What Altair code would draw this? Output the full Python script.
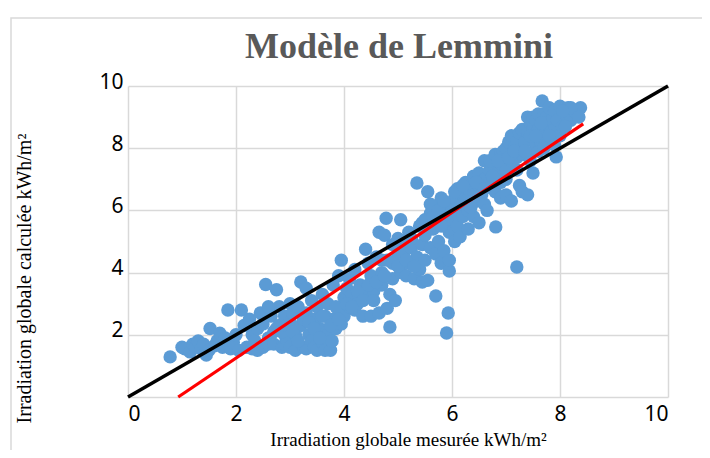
import altair as alt
import pandas as pd

# Measured (x) and calculated (y) global irradiation, kWh/m²
meas = [
    0.78, 1.00, 1.05, 1.15, 1.20, 1.25, 1.30, 1.35, 1.40, 1.45, 1.50, 1.52, 1.60, 1.65, 1.70, 1.75, 1.80, 1.85, 1.90, 1.95,
    2.00, 2.05, 2.10, 2.15, 2.20, 2.25, 2.30, 2.30, 2.35, 2.40, 2.40, 2.45, 2.50, 2.50, 2.55, 2.60, 2.60, 2.65, 2.70, 2.70,
    2.75, 2.80, 2.80, 2.85, 2.90, 2.90, 2.90, 2.95, 3.00, 3.00, 3.00, 3.05, 3.10, 3.10, 3.15, 3.20, 3.20, 3.25, 3.30, 3.30,
    3.30, 3.35, 3.40, 3.40, 3.45, 3.45, 3.50, 3.50, 3.55, 3.60, 3.60, 3.65, 3.65, 3.70, 3.70, 3.75, 3.78, 3.80, 3.80, 3.85,
    3.90, 3.90, 3.95, 3.95, 4.00, 4.00, 4.05, 4.10, 4.10, 4.15, 4.20, 4.20, 4.25, 4.30, 4.35, 4.40, 4.40, 4.45, 4.50, 4.50,
    4.55, 4.60, 4.65, 4.65, 4.70, 4.70, 4.75, 4.78, 4.80, 4.80, 4.85, 4.85, 4.90, 4.90, 4.95, 5.00, 5.00, 5.05, 5.05, 5.10,
    5.15, 5.20, 5.20, 5.25, 5.30, 5.35, 5.35, 5.40, 5.40, 5.45, 5.45, 5.50, 5.50, 5.55, 5.55, 5.60, 5.60, 5.65, 5.70, 5.70,
    5.70, 5.75, 5.80, 5.80, 5.85, 5.85, 5.90, 5.90, 5.90, 5.93, 5.95, 5.95, 5.95, 5.95, 6.00, 6.00, 6.00, 6.05, 6.05, 6.10,
    6.10, 6.10, 6.15, 6.15, 6.20, 6.20, 6.20, 6.25, 6.30, 6.30, 6.30, 6.35, 6.40, 6.40, 6.40, 6.45, 6.50, 6.50, 6.50, 6.55,
    6.55, 6.60, 6.60, 6.60, 6.65, 6.70, 6.70, 6.70, 6.81, 6.80, 6.80, 6.85, 6.90, 6.90, 6.90, 6.90, 6.95, 7.00, 7.00, 7.00,
    7.00, 7.05, 7.10, 7.10, 7.10, 7.15, 7.20, 7.20, 7.20, 7.20, 7.25, 7.25, 7.30, 7.30, 7.30, 7.35, 7.40, 7.40, 7.40, 7.40,
    7.45, 7.45, 7.50, 7.50, 7.50, 7.55, 7.55, 7.60, 7.60, 7.60, 7.65, 7.67, 7.70, 7.70, 7.75, 7.75, 7.80, 7.80, 7.85, 7.85,
    7.90, 7.90, 7.93, 7.95, 8.00, 8.00, 8.05, 8.10, 8.15, 8.20, 8.25, 8.30, 8.38,
    2.60, 2.75, 2.85, 2.95, 3.05, 3.15, 3.25, 3.35, 3.45, 3.55, 3.60, 3.75, 3.85, 3.90, 4.05, 4.15, 4.25, 4.35, 4.45, 4.55,
    4.60, 4.70, 4.75, 4.90, 5.00, 5.10, 5.15, 5.25, 5.30, 5.45, 5.50, 5.60, 5.65, 5.75, 5.80, 5.85, 6.05, 6.20, 6.25, 6.35,
    6.45, 6.60, 6.75, 6.85, 7.05, 7.15, 7.35, 7.45, 7.55, 7.65, 7.70, 7.80, 7.90, 8.10, 8.20, 8.35, 8.05,
]
calc = [
    1.29, 1.60, 1.55, 1.45, 1.70, 1.60, 1.80, 1.55, 1.70, 1.35, 1.50, 2.20, 1.65, 1.80, 2.05, 1.60, 1.90, 2.80, 1.55, 1.75,
    2.00, 1.50, 2.80, 2.30, 1.60, 2.50, 1.55, 2.00, 1.80, 2.20, 1.50, 2.70, 1.60, 2.35, 3.62, 1.90, 1.70, 2.60, 2.10, 1.70,
    3.45, 2.90, 2.30, 1.60, 2.60, 2.00, 1.70, 1.80, 3.00, 2.40, 1.60, 2.70, 2.00, 1.50, 2.90, 3.70, 2.30, 1.60, 3.50, 2.70,
    1.55, 2.00, 3.10, 1.80, 2.50, 1.60, 1.50, 2.90, 2.20, 3.30, 1.75, 2.60, 1.50, 2.00, 3.00, 1.50, 1.80, 2.50, 3.60, 2.20,
    3.90, 2.80, 4.40, 2.35, 3.20, 2.60, 3.50, 2.90, 3.80, 3.30, 2.80, 4.10, 3.00, 3.60, 2.60, 4.75, 3.30, 4.30, 2.60, 3.90,
    3.40, 4.50, 5.30, 2.70, 4.00, 3.60, 5.20, 5.75, 4.40, 2.85, 2.25, 3.30, 4.90, 3.80, 3.10, 4.60, 5.10, 5.70, 4.00, 4.60,
    3.90, 4.30, 5.30, 4.80, 3.80, 6.88, 4.50, 5.50, 4.10, 3.70, 4.90, 5.20, 4.40, 6.60, 3.75, 5.90, 4.80, 5.40, 3.25, 6.10,
    4.60, 5.00, 6.40, 4.30, 5.60, 4.70, 6.20, 2.06, 5.80, 2.70, 4.05, 4.40, 5.30, 5.90, 6.00, 5.70, 5.30, 6.40, 5.00, 5.50,
    6.70, 5.90, 5.15, 6.10, 6.20, 5.80, 6.50, 6.90, 6.00, 5.40, 6.40, 6.60, 7.10, 5.80, 6.50, 6.30, 7.20, 5.60, 6.80, 6.80,
    6.50, 7.60, 6.20, 7.00, 6.00, 7.30, 6.90, 7.60, 5.47, 7.80, 6.60, 7.20, 7.50, 6.40, 7.80, 6.90, 7.90, 7.00, 6.50, 8.00,
    7.30, 8.20, 7.60, 6.30, 8.40, 8.00, 4.18, 7.30, 8.20, 7.70, 8.50, 6.80, 7.80, 6.60, 8.60, 8.20, 9.00, 6.50, 8.50, 7.80,
    7.60, 8.80, 8.60, 7.20, 9.00, 8.90, 8.10, 9.10, 7.90, 8.60, 8.20, 9.52, 8.50, 9.10, 9.00, 8.80, 8.70, 9.30, 8.30, 8.90,
    9.20, 8.60, 7.72, 8.90, 9.35, 8.40, 8.70, 9.10, 9.30, 8.90, 9.20, 9.15, 9.30,
    2.90, 2.20, 2.10, 2.30, 2.10, 1.80, 2.50, 2.40, 2.20, 1.90, 2.60, 2.30, 2.90, 2.50, 3.00, 2.90, 3.40, 3.10, 3.60, 3.10,
    3.70, 4.40, 3.90, 4.30, 4.20, 5.00, 4.40, 5.10, 4.20, 5.60, 5.70, 6.20, 5.80, 6.00, 5.50, 6.30, 6.60, 6.80, 6.30, 6.10,
    6.90, 6.70, 7.10, 7.60, 7.70, 7.90, 7.90, 8.40, 8.40, 8.80, 8.00, 8.40, 8.10, 8.70, 9.30, 9.00, 9.20,
]

# Reference lines: y = x (black) and regression line (red)
ref_x = [0, 10]
ref_y = [0, 10]
reg_x = [0.93, 8.43]
reg_y = [0.0, 8.78]

title_text = ["Modèle de Lemmini"]

pts = pd.DataFrame({"x": meas, "y": calc})
ref = pd.DataFrame({"x": ref_x, "y": ref_y})
reg = pd.DataFrame({"x": reg_x, "y": reg_y})

grid_vals = [0, 2, 4, 6, 8, 10]

xscale = alt.Scale(domain=[0, 10], nice=False)
yscale = alt.Scale(domain=[0, 10], nice=False)

xaxis = alt.Axis(
    values=grid_vals, grid=True, gridColor="#d9d9d9", gridWidth=1.5,
    domain=False, ticks=False,
    labelFont="Noto Sans", labelFontSize=21, labelColor="#000000", labelPadding=6,
    title="Irradiation globale mesurée kWh/m²",
    titleFont="Liberation Serif", titleFontSize=19, titleFontWeight="normal", titleColor="#000000",
    titleX=280, titleY=42, titleAlign="center", titleBaseline="middle",
)
yaxis = alt.Axis(
    values=grid_vals, grid=True, gridColor="#d9d9d9", gridWidth=1.5,
    domain=False, ticks=False,
    labelExpr="datum.value == 0 ? '' : datum.label",
    labelFont="Noto Sans", labelFontSize=21, labelColor="#000000", labelPadding=5,
    labelOffset=-4,
    title="Irradiation globale calculée kWh/m²",
    titleFont="Liberation Serif", titleFontSize=20, titleFontWeight="normal", titleColor="#000000",
    titleX=-104, titleY=192, titleAngle=270, titleAlign="center", titleBaseline="middle",
)

points = alt.Chart(pts).mark_circle(size=180, color="#5b9bd5", opacity=1).encode(
    x=alt.X("x:Q", scale=xscale, axis=xaxis),
    y=alt.Y("y:Q", scale=yscale, axis=yaxis),
)

red = alt.Chart(reg).mark_line(color="#ff0000", strokeWidth=3.2).encode(
    x=alt.X("x:Q", scale=xscale), y=alt.Y("y:Q", scale=yscale)
)
black = alt.Chart(ref).mark_line(color="#000000", strokeWidth=3.5).encode(
    x=alt.X("x:Q", scale=xscale), y=alt.Y("y:Q", scale=yscale)
)

frame = alt.Chart(pd.DataFrame({"k": [0]})).mark_rect(
    fill=None, stroke="#d9d9d9", strokeWidth=1.5, clip=False
).encode(
    x=alt.value(-117), x2=alt.value(620), y=alt.value(-68), y2=alt.value(420)
)

title = alt.Chart(pd.DataFrame({"t": title_text})).mark_text(
    font="Liberation Serif", fontSize=36, fontWeight="bold", color="#595959",
    align="center", baseline="alphabetic",
).encode(text="t:N", x=alt.value(271), y=alt.value(-28))

chart = alt.layer(frame, points, red, black, title).properties(
    width=540, height=311,
    autosize=alt.AutoSizeParams(type="none"),
    padding={"left": 120, "top": 78, "right": 34, "bottom": 53},
).configure_view(stroke=None)

chart.save("out.html", embed_options={"renderer": "svg", "actions": False})
